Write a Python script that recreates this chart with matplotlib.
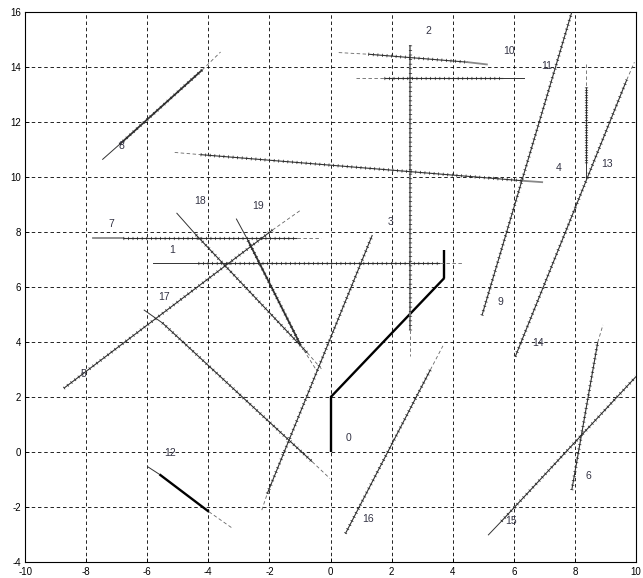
import matplotlib
matplotlib.use("Agg")
import matplotlib.pyplot as plt

plt.rcParams['font.family'] = ['Liberation Sans', 'DejaVu Sans']
plt.rcParams['lines.scale_dashes'] = False
plt.rcParams['axes.unicode_minus'] = False

# Segments: start/end coordinates and drawing style
seg_x0 = [0, 0, 3.73,
          -5.8, -4.35, 3.6,
          2.6, 2.6,
          -2.25, -2.07,
          -5.1, -4.25, 6.3,
          -8.73, -1.9,
          7.9, 8.75,
          -7.77, -6.8, -1.09,
          -7.46, -6.9, -4.2,
          4.96,
          0.27, 1.24, 4.5,
          0.82, 1.74, 5.65,
          -5.99, -5.6, -3.98,
          8.36, 8.36, 8.36,
          6.05, 9.7,
          5.17, 5.6,
          0.49, 3.27,
          -6.1, -5.5, -0.6,
          -5.03, -4.4, -0.76,
          -3.08, -2.7, -0.98]
seg_y0 = [0, 2, 6.34,
          6.88, 6.88, 6.88,
          14.8, 4.45,
          -2.1, -1.5,
          10.9, 10.82, 9.87,
          2.33, 8.08,
          -1.37, 4.0,
          7.8, 7.8, 7.8,
          10.65, 11.2, 13.9,
          4.98,
          14.53, 14.47, 14.18,
          13.59, 13.59, 13.59,
          -0.52, -0.8, -2.16,
          14.12, 13.27, 10.5,
          3.48, 13.54,
          -3.0, -2.5,
          -2.95, 3.0,
          5.17, 4.7, -0.34,
          8.69, 7.9, 3.62,
          8.48, 7.7, 3.9]
seg_x1 = [0, 3.73, 3.73,
          -4.35, 3.6, 4.3,
          2.6, 2.6,
          -2.07, 1.37,
          -4.25, 6.3, 6.93,
          -1.9, -0.98,
          8.75, 8.92,
          -6.8, -1.09, -0.3,
          -6.9, -4.2, -3.6,
          7.9,
          1.24, 4.5, 5.12,
          1.74, 5.65, 6.34,
          -5.6, -3.98, -3.21,
          8.36, 8.36, 8.36,
          9.7, 9.95,
          5.6, 10.0,
          3.27, 3.68,
          -5.5, -0.6, -0.02,
          -4.4, -0.76, -0.27,
          -2.7, -0.98, -0.43]
seg_y1 = [2, 6.34, 7.35,
          6.88, 6.88, 6.88,
          4.45, 3.5,
          -1.5, 7.9,
          10.82, 9.87, 9.82,
          8.08, 8.8,
          4.0, 4.63,
          7.8, 7.8, 7.8,
          11.2, 13.9, 14.55,
          16.0,
          14.47, 14.18, 14.1,
          13.59, 13.59, 13.59,
          -0.8, -2.16, -2.76,
          13.27, 10.5, 9.96,
          13.54, 14.18,
          -2.5, 2.75,
          3.0, 3.87,
          4.7, -0.34, -0.95,
          7.9, 3.62, 3.0,
          7.7, 3.9, 2.93]
seg_style = ['thick', 'thick', 'thick',
             'solid', 'ticked', 'dashed',
             'grayticked', 'dashed',
             'dashed', 'ticked',
             'dashed', 'ticked', 'gray',
             'ticked', 'dashed',
             'ticked', 'dashed',
             'gray', 'ticked', 'dashed',
             'solid', 'thickticked', 'dashed',
             'ticked',
             'dashed', 'ticked', 'gray',
             'dashed', 'ticked', 'solid',
             'solid', 'thick', 'dashed',
             'dashed', 'denseticked', 'solid',
             'ticked', 'dashed',
             'solid', 'ticked',
             'ticked', 'dashed',
             'solid', 'ticked', 'dashed',
             'solid', 'ticked', 'dashed',
             'solid', 'thickticked', 'dashed']

# Labels
label_ids = [str(i) for i in range(20)]
label_x = [0.6, -5.17, 3.21, 1.98, 7.46, -8.09, 8.44, -7.19, -6.86, 5.56,
           5.83, 7.08, -5.25, 9.04, 6.78, 5.92, 1.23, -5.45, -4.28, -2.38]
label_y = [0.51, 7.37, 15.3, 8.39, 10.33, 2.84, -0.86, 8.3, 11.15, 5.45,
           14.57, 14.06, -0.01, 10.47, 3.99, -2.49, -2.44, 5.66, 9.15, 8.97]

x_ticks = list(range(-10, 11, 2))
y_ticks = list(range(-4, 17, 2))

fig = plt.figure(figsize=(6.43, 5.78), dpi=100)
ax = fig.add_axes([0.039, 0.027, 0.950, 0.952])

for x0, y0, x1, y1, st in zip(seg_x0, seg_y0, seg_x1, seg_y1, seg_style):
    xs, ys = [x0, x1], [y0, y1]
    if st == 'thick':
        ax.plot(xs, ys, color='black', lw=1.7, solid_capstyle='butt', zorder=3)
    elif st == 'solid':
        ax.plot(xs, ys, color='#333333', lw=0.7, zorder=3)
    elif st == 'gray':
        ax.plot(xs, ys, color='#888888', lw=1.3, zorder=3)
    elif st == 'dashed':
        ax.plot(xs, ys, color='#666666', lw=0.6, linestyle=(0, (2.5, 1.8)), zorder=3)
    elif st in ('ticked', 'grayticked', 'thickticked', 'denseticked'):
        base_col = '#777777' if st == 'grayticked' else '#333333'
        base_lw = 1.3 if st in ('grayticked', 'thickticked') else 0.8
        ax.plot(xs, ys, color=base_col, lw=base_lw, solid_capstyle='butt', zorder=3)
        gap = 1.3 if st == 'denseticked' else 2.8
        ax.plot(xs, ys, color='#222222', lw=2.3, linestyle=(0, (0.5, gap)),
                dash_capstyle='butt', zorder=4)

for t, x, y in zip(label_ids, label_x, label_y):
    ax.text(x, y, t, fontsize=7.5, color='#333344', ha='center', va='center', zorder=5)

ax.set_xlim(-10, 10)
ax.set_ylim(-4, 16)
ax.set_xticks(x_ticks)
ax.set_yticks(y_ticks)
ax.tick_params(labelsize=7, direction='in', length=3, width=0.6)
ax.tick_params(axis='x', pad=3.5)
ax.tick_params(axis='y', pad=3)
ax.grid(True, color='black', lw=0.6, linestyle=(0, (2.5, 2)))
for s in ax.spines.values():
    s.set_linewidth(0.8)

fig.savefig('out.png', dpi=100)
